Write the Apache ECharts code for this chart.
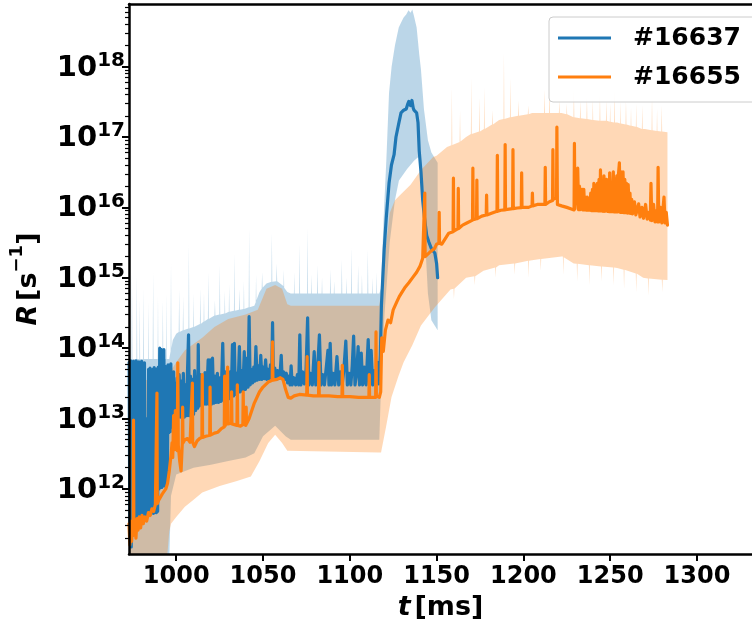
<!DOCTYPE html>
<html>
<head>
<meta charset="utf-8">
<script src="https://cdn.jsdelivr.net/npm/echarts@6.0.0/dist/echarts.min.js"></script>
<style>html,body{margin:0;padding:0;background:#fff;}#c{width:752px;height:630px;}</style>
</head>
<body>
<div id="c"></div>
<script>
// ---------- tick labels ----------
const xTicks = [1000, 1050, 1100, 1150, 1200, 1250, 1300];
const yTicks = [1e12, 1e13, 1e14, 1e15, 1e16, 1e17, 1e18];
const yMinorMult = [2, 3, 4, 5, 6, 7, 8, 9];
const yMinorDecades = [1e11, 1e12, 1e13, 1e14, 1e15, 1e16, 1e17, 1e18];
const seriesNames = ['#16637', '#16655'];

// ---------- #16637 : line, band upper, band lower  [t (ms), R (1/s)] ----------
const blueLine = [
[972.9,6.3e13],[973.3,1.8e11],[973.7,6.6e13],[974.1,1.5e11],[974.5,5.8e13],[974.9,2.2e11],[975.3,6.5e13],[975.7,4.0e11],
[976.1,6.2e13],[976.5,3.6e11],[976.9,6.6e13],[977.3,4.4e11],[977.7,3.0e13],[978.1,4.0e11],[978.5,6.4e13],[978.9,3.8e11],
[979.3,6.0e13],[979.7,4.2e11],[980.1,6.5e13],[980.5,3.9e11],[980.9,5.6e13],[981.3,4.1e11],[981.7,6.2e13],[982.1,4.0e11],
[982.5,1.0e13],[982.9,4.2e11],[983.3,9e12],[983.7,4.4e11],[984.1,5.0e13],[984.5,4.6e11],[984.9,5.2e13],[985.3,4.4e11],
[985.7,4.8e13],[986.1,4.7e11],[986.5,5.0e13],[986.9,4.5e11],[987.3,5.3e13],[987.7,4.8e11],[988.1,4.9e13],[988.5,4.6e11],
[988.9,5.1e13],[989.3,4.8e11],[989.7,5.4e13],[990.1,1.0e12],[990.5,1.0e14],[990.9,1.1e12],[991.3,9.6e13],[991.7,1.05e12],
[992.1,7e13],[992.5,1.1e12],[992.9,9.5e13],[993.3,1.1e12],[993.7,5.5e13],[994.1,1.2e12],[994.5,4.0e13],[994.9,1.6e12],
[995.3,5.8e13],[995.7,6.3e12],[996.1,4.4e13],[996.5,6.5e12],[996.9,6.0e13],[997.3,7.5e12],[997.7,3.5e13],[998.1,1.0e13],
[998.5,4.6e13],[998.9,1.0e13],[999.3,3.2e13],[999.7,1.05e13],
[1000.1,1.05e13],[1000.6,3.8e13],[1001.1,1.1e13],[1001.7,4.2e13],[1002.3,1.05e13],[1002.9,3.4e13],[1003.5,1.1e13],[1004.1,4.4e13],
[1004.7,1.05e13],[1005.3,3.0e13],[1005.9,1.1e13],[1006.5,4.6e13],[1007.1,1.55e14],[1007.6,1.1e13],[1008.2,4.0e13],[1008.8,1.2e13],
[1009.4,3.6e13],[1010,1.15e13],[1010.6,4.8e13],[1011.2,1.3e13],[1011.8,3.9e13],[1012.4,1.4e13],[1012.7,1.12e14],[1013.1,1.5e13],
[1013.8,4.2e13],[1014.5,1.55e13],[1015.2,3.6e13],[1015.9,1.6e13],[1016.6,4.5e13],[1017.3,1.6e13],[1018,3.8e13],[1018.4,6.8e13],
[1018.8,1.6e13],[1019.5,6.8e13],[1020.2,1.6e13],[1020.9,7.2e13],[1021.6,1.65e13],[1022.3,4.0e13],[1023,1.7e13],[1023.7,4.4e13],
[1024.4,1.7e13],[1025.1,3.8e13],[1025.8,1.75e13],[1026.8,1.17e14],[1027.5,1.8e13],[1028.2,4.6e13],[1028.9,1.8e13],[1029.6,4.0e13],
[1030.3,1.9e13],[1031,4.6e13],[1031.7,2.0e13],[1032.4,1.12e14],[1033,2.1e13],[1033.5,1.17e14],[1034.1,2.2e13],[1034.8,4.4e13],
[1035.5,2.3e13],[1036.4,1.05e14],[1037,2.4e13],[1037.7,4.8e13],[1038.4,2.5e13],[1039.2,8.9e13],[1039.9,2.6e13],[1040.8,7.2e13],
[1041.4,2.8e13],[1042,2.8e14],[1042.6,3.0e13],[1043.3,5.0e13],[1044,3.2e13],[1044.7,5.4e13],[1045.3,3.4e13],[1045.9,1.05e14],
[1046.6,3.5e13],[1047.3,5.6e13],[1048,3.6e13],[1048.7,7.9e13],[1049.4,3.6e13],[1050.1,5.4e13],[1050.8,3.7e13],[1051.5,6.8e13],
[1052.2,3.6e13],[1052.9,5.0e13],[1053.6,3.7e13],[1054.3,5.8e13],[1055,3.8e13],[1055.5,2.3e14],[1056,3.7e13],[1056.8,5.2e13],
[1057.6,3.6e13],[1058.4,4.8e13],[1059.2,3.7e13],[1060,5.0e13],[1060.5,7.9e13],[1061,3.7e13],[1061.8,4.6e13],[1062.6,3.6e13],
[1063.4,4.4e13],[1064.2,3.2e13],[1065,4.0e13],[1065.6,3.0e13],[1066.2,5.6e13],[1066.8,3.0e13],[1067.8,3.8e13],[1068.8,3.0e13],
[1069.8,4.2e13],[1070.6,3.0e13],[1071.2,1.55e14],[1071.8,3.0e13],[1072.8,4.6e13],[1073.8,3.1e13],[1074.8,5.0e13],[1075.7,2.7e14],
[1076.4,3.0e13],[1077.4,4.4e13],[1078.4,3.0e13],[1079.5,8.9e13],[1080.4,3.0e13],[1081.4,4.8e13],[1082.5,1.55e14],[1083.4,3.0e13],
[1084.4,4.2e13],[1085.4,3.0e13],[1086.4,5.2e13],[1087.4,9.3e13],[1088,3.0e13],[1088.7,1.17e14],[1089.4,3.0e13],[1090.4,4.4e13],
[1091.4,3.0e13],[1092.6,7.6e13],[1093.6,3.0e13],[1094.6,4.6e13],[1095.6,3.0e13],[1096.6,5.0e13],[1097.7,1.26e14],[1098.6,3.0e13],
[1099.6,4.4e13],[1100.6,3.0e13],[1101.4,5.6e13],[1102.2,1.48e14],[1103,3.0e13],[1104,4.6e13],[1104.8,1.05e14],[1105.6,3.0e13],
[1106.6,8.5e13],[1107.4,3.0e13],[1108.4,5.4e13],[1109.4,3.0e13],[1110.6,1.32e14],[1111.4,3.0e13],[1112.3,9.3e13],[1113.2,3.0e13],
[1114.2,4.8e13],[1115.1,3.1e13],[1116,6.3e13],[1116.8,3.1e13],
[1117.6,8e13],[1118.2,4e14],[1119,1.0e15],[1119.8,2.5e15],[1121,7.1e15],[1122.6,2.2e16],[1124,4.0e16],[1125.5,5.6e16],
[1126.6,1.0e17],[1128.3,1.6e17],[1129.5,2.2e17],[1131,2.4e17],[1132.5,2.5e17],[1133.3,2.9e17],[1134,3.2e17],[1135,2.8e17],
[1135.8,3.3e17],[1136.5,2.6e17],[1137,2.4e17],[1138.5,2.2e17],[1139.3,1.6e17],[1140,6.3e16],[1141,3.2e16],[1142,1.26e16],
[1143,7.2e15],[1144.3,4.0e15],[1145.6,3.2e15],[1147,2.6e15],[1149,2.24e15],[1150,1.6e15],[1150.6,1.0e15]
];
const blueUpper = [
[972.8,7.0e13],[974.25,7e13],[974.5,1.2e15],[974.75,7e13],[977.05,7e13],[977.3,1.1e15],[977.55,7e13],
[978.8,7e13],[979,5e14],[979.2,7e13],[980.85,7e13],[981.1,6.8e14],[981.35,7e13],[983.8,7e13],[984,4.5e14],[984.2,7e13],
[986.45,7e13],[986.7,1.2e15],[986.95,7e13],[989.3,7e13],[989.5,5.5e14],[989.7,7e13],[992.05,7e13],[992.3,4.8e14],[992.55,7e13],
[994.3,7e13],[994.5,6e14],[994.7,7e13],[996,7e13],[996.75,9e13],[997,1.6e15],[997.25,1e14],[998,1.3e14],[1000,1.6e14],
[1001.45,1.7e14],[1001.7,6.8e14],[1001.95,1.7e14],[1003.8,1.8e14],[1004,5.5e14],[1004.2,1.8e14],
[1007.05,1.9e14],[1007.3,3.0e15],[1007.55,1.9e14],[1009.8,2e14],[1010,6e14],[1010.2,2e14],
[1013.65,2.2e14],[1013.9,7e14],[1014.15,2.2e14],[1015.8,2.4e14],[1016,6e14],[1016.2,2.4e14],
[1018.25,2.6e14],[1018.5,1.2e15],[1018.75,2.6e14],[1022.05,2.9e14],[1022.3,4.8e14],[1022.55,2.9e14],
[1024.85,3e14],[1025.1,1.5e15],[1025.35,3e14],[1027.8,3.1e14],[1028,6.5e14],[1028.2,3.1e14],
[1030.3,3.3e14],[1030.5,8e14],[1030.7,3.3e14],[1033.25,3.4e14],[1033.5,2.2e15],[1033.75,3.4e14],
[1036.15,3.5e14],[1036.4,7e14],[1036.65,3.5e14],[1038.8,3.6e14],[1039,9e14],[1039.2,3.6e14],
[1041.75,3.8e14],[1042,5e15],[1042.25,3.8e14],[1045,4e14],[1045.8,4.5e14],[1046,1.1e15],[1046.2,4.8e14],[1048,6.3e14],
[1049.25,7e14],[1049.5,1.2e15],[1049.75,7.2e14],[1052,8.3e14],[1054.85,8.8e14],[1055.1,4.3e15],[1055.35,8.8e14],
[1057.65,8.9e14],[1057.9,1.6e15],[1058.15,8.9e14],[1061,7.9e14],[1061.8,7.6e14],[1062,1.3e15],[1062.2,7.2e14],[1064,6.3e14],
[1066,6e14],[1067.8,6e14],[1068,1.2e15],[1068.2,6e14],[1070.85,6e14],[1071.1,3e15],[1071.35,6e14],
[1075.45,6e14],[1075.7,5e15],[1075.95,6e14],[1077.8,6e14],[1078,1.1e15],[1078.2,6e14],
[1081.15,6e14],[1081.4,1.5e15],[1081.65,6e14],[1083.8,6e14],[1084,1.0e15],[1084.2,6e14],
[1088.55,6e14],[1088.8,1.3e15],[1089.05,6e14],[1090.8,6e14],[1091,9e14],[1091.2,6e14],
[1095.15,6e14],[1095.4,1.8e15],[1095.65,6e14],[1097.8,6e14],[1098,1.0e15],[1098.2,6e14],
[1100.75,6e14],[1101,2.7e15],[1101.25,6e14],[1104.55,6e14],[1104.8,1.5e15],[1105.05,6e14],
[1106.8,6e14],[1107,1.1e15],[1107.2,6e14],[1110.15,6e14],[1110.4,2.5e15],[1110.65,6e14],
[1112.8,6e14],[1113,1.0e15],[1113.2,6e14],[1115.3,6e14],[1115.5,1.2e15],[1115.7,6e14],[1117,6e14],
[1117.9,7e14],[1119.6,8e15],[1121.1,5e16],[1122.6,4.2e17],[1124.1,1e18],[1126,2e18],[1128.2,3.6e18],[1129.5,4.2e18],
[1131,5e18],[1132.5,5.5e18],[1133.8,6.3e18],[1135,5.8e18],[1136,6.5e18],[1137,5.2e18],[1138.5,3.6e18],[1140,1.5e18],
[1141,9e17],[1142.7,2.5e17],[1145,9e16],[1147,6e16],[1150.6,4.3e16]
];
const blueLower = [
[972.8,1.0e11],[996,1.0e11],[997,8e11],[1000,1.6e12],[1010,2.0e12],[1020,2.2e12],[1030,2.5e12],[1040,2.8e12],
[1045,3.2e12],[1050,5.6e12],[1057,7.9e12],[1063,5.6e12],[1066,5.0e12],[1117,5.0e12],[1118,3e13],[1120,3e14],
[1123,3.2e15],[1126,1.26e16],[1128.3,2.4e16],[1133,3.5e16],[1137,4.6e16],[1139.5,5.2e16],[1141,4e16],[1142.5,1.6e16],
[1143.5,3e15],[1145,6e14],[1147,2.5e14],[1150.6,1.8e14]
];

// ---------- #16655 : line, band upper, band lower  [t (ms), R (1/s)] ----------
const orangeLine = [
[972.8,3.2e11],[973.3,1.6e11],[973.8,3.5e11],[974.3,1.8e11],[974.8,3.0e11],[975.2,2.2e11],[975.4,9.5e12],[975.6,2.4e11],
[976.2,3.6e11],[976.8,2.0e11],[977.4,3.8e11],[978,2.6e11],[978.7,4.0e11],[979.5,2.8e11],[980.3,4.2e11],[981,3.2e11],
[982,4.0e11],[983,3.5e11],[984,4.6e11],[985,4.2e11],[986,5.2e11],[987,4.8e11],[988,6.0e11],[988.9,2.3e13],[989.1,6.2e11],
[990,7.0e11],[991,6.8e11],[992,8.5e11],[993,8.0e11],[994,1.0e12],[995,1.2e12],[996,1.8e12],[997,3.0e12],[997.6,4.5e12],
[998,2.8e12],[998.5,1.1e13],[999,3.6e12],[999.5,1.3e13],[1000,4.0e12],[1000.6,3.5e12],[1000.9,6.2e13],[1001.2,4.2e12],
[1002,2.5e12],[1002.8,1.8e12],[1003.5,4.5e12],[1003.7,1.45e13],[1003.9,4.5e12],[1005,5.0e12],[1006.5,5.2e12],[1008,4.6e12],
[1009.1,4.8e12],[1009.3,3.2e13],[1009.5,4.6e12],[1010.5,4.0e12],[1012,4.8e12],[1013.5,5.2e12],[1014.8,5.4e12],[1015,4.2e13],
[1015.2,5.4e12],[1017,5.6e12],[1019.3,5.8e12],[1019.5,2.8e13],[1019.7,5.8e12],[1022,6.2e12],[1024,6.4e12],[1026,7.2e12],
[1027.7,7.6e12],[1027.9,4.0e13],[1028.3,8e12],[1029.4,8.2e12],[1029.6,5.4e13],[1029.8,8.4e12],[1031.7,8.6e12],[1031.9,2.4e13],
[1032.1,8.4e12],[1035,8.0e12],[1035.2,3.0e13],[1035.4,8.0e12],[1037,7.8e12],[1038.4,8.2e12],[1038.6,2.4e13],[1038.8,8.4e12],
[1040.1,8.0e12],[1040.3,1.45e13],[1040.5,8.4e12],[1042,1.0e13],[1045,1.66e13],[1048,2.4e13],[1050,2.8e13],[1053,3.3e13],
[1055.3,3.5e13],[1055.5,1.23e14],[1055.7,3.5e13],[1058,3.6e13],[1060,3.8e13],[1061.5,3.6e13],[1063,2.6e13],[1064.5,2.0e13],
[1066,1.95e13],[1068,2.1e13],[1071,2.2e13],[1075.2,2.15e13],[1075.4,7.6e13],[1075.6,2.15e13],[1079,2.1e13],[1082,2.1e13],
[1082.2,6.3e13],[1082.4,2.1e13],[1088,2.1e13],[1093,2.05e13],[1095.5,2.05e13],[1095.7,5.7e13],[1095.9,2.05e13],[1100,2.05e13],
[1105,2.0e13],[1111,2.0e13],[1111.2,4.2e13],[1111.4,2.0e13],[1114.9,2.0e13],[1115.1,1.7e14],[1115.3,2.1e13],[1117,2.0e13],
[1117.8,2.4e13],[1118.4,1.4e14],[1119.3,9e13],[1120.5,1.8e14],[1122,2.5e14],[1123.5,2.3e14],[1125,3.5e14],[1127,4.5e14],
[1128.5,5.4e14],[1130,6.2e14],[1132,7.4e14],[1134,8.5e14],[1136.4,1.02e15],[1138.5,1.2e15],[1140.4,1.45e15],[1142,1.9e15],
[1143.0,2.0e15],[1143.2,1.6e16],[1143.4,2.0e15],[1146,2.3e15],[1148.8,2.6e15],[1150,3.0e15],[1151.3,3.1e15],[1151.5,8.5e15],
[1151.7,3.1e15],[1153,3.0e15],[1155,3.6e15],[1157,4.3e15],[1159.5,4.5e15],[1159.7,2.6e16],[1159.9,4.6e15],[1162.3,5.0e15],
[1162.5,1.86e16],[1162.7,5.0e15],[1165,5.6e15],[1167.4,6.0e15],[1170.7,6.6e15],[1170.9,3.6e16],[1171.1,6.7e15],[1173,6.9e15],
[1173.2,2.45e16],[1173.4,6.9e15],[1176,7.5e15],[1178.6,7.8e15],[1178.8,1.5e16],[1179,7.8e15],[1182,8.3e15],[1184.8,8.8e15],
[1185,5.5e16],[1185.2,8.8e15],[1187,9.1e15],[1189.3,9.2e15],[1189.5,7.8e16],[1189.7,9.3e15],[1193.8,9.6e15],[1194,6.6e16],
[1194.2,9.6e15],[1196.5,9.8e15],[1198.8,9.9e15],[1199,3.1e16],[1199.2,1.0e16],[1203,1.0e16],[1205,1.05e16],[1205.2,1.6e16],
[1205.4,1.05e16],[1208,1.1e16],[1212.4,1.1e16],[1212.6,3.7e16],[1212.8,1.1e16],[1215,1.2e16],[1216.8,1.25e16],[1217,6.6e16],
[1217.2,1.3e16],[1219.1,1.4e16],[1219.3,1.38e17],[1219.6,1.1e16],[1222,1.05e16],[1225,1.0e16],[1227.6,9.5e15],[1229.2,9.2e15],
[1229.4,8.1e16],[1229.7,9.5e15],
[1230.2,9.3e15],[1230.8,2.2e16],[1231.3,3.6e16],[1231.8,9.3e15],[1232.3,2.0e16],[1232.8,9.3e15],[1233.3,1.6e16],[1233.8,1.8e16],
[1234.3,9.2e15],[1234.8,1.8e16],[1235.3,9.2e15],[1235.8,1.4e16],[1236.3,9.1e15],[1236.8,1.4e16],[1237.3,9.1e15],[1237.8,1.26e16],
[1238.3,9.1e15],[1238.8,1.6e16],[1239.3,9.0e15],[1239.8,1.8e16],[1240.3,9.0e15],[1240.6,2.2e16],[1241.1,9.0e15],[1241.6,2.0e16],
[1242.1,9.0e15],[1242.6,2.2e16],[1243.1,8.9e15],[1243.6,2.5e16],[1244.1,8.9e15],[1244.4,3.4e16],[1244.9,8.9e15],[1245.4,2.0e16],
[1245.9,8.8e15],[1246.4,2.8e16],[1246.9,8.8e15],[1247.4,2.0e16],[1247.9,2.5e16],[1248.4,8.8e15],[1248.9,2.2e16],[1249.4,8.7e15],
[1249.7,3.1e16],[1250.2,8.7e15],[1250.7,1.8e16],[1251.2,8.7e15],[1251.8,3.2e16],[1252.3,8.6e15],[1252.8,2.5e16],[1253.3,8.6e15],
[1253.8,2.8e16],[1254.3,8.6e15],[1254.8,3.0e16],[1255.3,4.3e16],[1255.8,8.5e15],[1256.3,3.2e16],[1256.8,8.5e15],[1257.4,3.2e16],
[1257.9,8.4e15],[1258.4,2.5e16],[1258.9,8.4e15],[1259.4,2.2e16],[1259.9,8.3e15],[1260.4,2.1e16],[1260.9,8.3e15],[1261.4,1.6e16],
[1261.9,8.2e15],[1262.4,1.3e16],[1262.9,8.1e15],
[1264,1.2e16],[1264.8,7.8e15],[1266.4,1.12e16],[1267.2,7.3e15],[1268.3,1.0e16],[1269.2,7.0e15],[1270.4,1.1e16],[1271.3,6.8e15],
[1272.3,8.5e15],[1273.1,6.6e15],[1273.5,2.2e16],[1274,6.5e15],[1275,1.1e16],[1275.8,6.2e15],[1276.6,9e15],[1277.3,6.2e15],
[1277.6,3.7e16],[1278,6.2e15],[1279,1.0e16],[1279.8,6.0e15],[1280.5,1.0e16],[1281,1.4e16],[1281.6,6e15],[1282.3,8.5e15],[1283,5.6e15]
];
const orangeUpper = [
[972.8,3.2e13],[995,4e13],[1000,6.3e13],[1005,9.3e13],[1015,1.4e14],[1022,2e14],[1030,2.6e14],[1040,3e14],[1047,3.5e14],
[1052,7e14],[1057,7.9e14],[1061,7e14],[1064,4.2e14],[1066,4e14],[1117,4e14],[1117.5,5e14],[1118.5,1e15],[1120,2e15],
[1122,5e15],[1123,8.3e15],[1126,1.26e16],[1129,1.5e16],[1135,2.1e16],[1141,3.4e16],[1148,5.2e16],[1150,5.4e16],[1156,7.2e16],
[1158.55,7.6e16],[1158.8,5.1e17],[1159.05,7.7e16],[1163.25,8.5e16],[1163.5,2.4e17],[1163.75,8.6e16],[1167,1e17],
[1169.75,1.1e17],[1170,6.9e17],[1170.25,1.1e17],[1174.45,1.2e17],[1174.7,3.7e17],[1174.95,1.2e17],
[1177.25,1.3e17],[1177.5,5.1e17],[1177.75,1.3e17],[1181.95,1.5e17],[1182.2,2.4e17],[1182.45,1.5e17],[1186,1.74e17],
[1188.55,1.8e17],[1188.8,1.55e18],[1189.05,1.8e17],[1192.25,1.9e17],[1192.5,6.9e17],[1192.75,1.9e17],
[1196.95,2e17],[1197.2,3.3e17],[1197.45,2e17],[1202.55,2.1e17],[1202.8,2.8e17],[1203.05,2.1e17],[1205,2.2e17],
[1211.95,2.2e17],[1212.2,4.7e17],[1212.45,2.2e17],[1214.75,2.2e17],[1215,5.6e17],[1215.25,2.2e17],
[1220.45,2.2e17],[1220.7,3.3e17],[1220.95,2.2e17],[1222,2.2e17],[1224.8,2.1e17],[1225,3e17],[1225.2,2.1e17],
[1228.85,1.9e17],[1229.1,4.7e17],[1229.35,1.9e17],[1232.55,1.85e17],[1232.8,3.3e17],[1233.05,1.85e17],
[1236.35,1.8e17],[1236.6,3.7e17],[1236.85,1.8e17],[1239.8,1.75e17],[1240,3.5e17],[1240.2,1.75e17],
[1243.85,1.7e17],[1244.1,4e17],[1244.35,1.7e17],[1247.55,1.7e17],[1247.8,3.3e17],[1248.05,1.7e17],
[1249.8,1.65e17],[1250,3e17],[1250.2,1.65e17],[1252.25,1.6e17],[1252.5,4.7e17],[1252.75,1.6e17],[1254,1.6e17],
[1255.8,1.55e17],[1256,3.2e17],[1256.2,1.55e17],[1258.85,1.5e17],[1259.1,3.3e17],[1259.35,1.5e17],
[1261.8,1.45e17],[1262,2.6e17],[1262.2,1.45e17],[1264.8,1.4e17],[1265,3e17],[1265.2,1.4e17],
[1268.25,1.3e17],[1268.5,2.8e17],[1268.75,1.3e17],[1270,1.3e17],[1273.85,1.25e17],[1274.1,3.7e17],[1274.35,1.25e17],
[1276.8,1.22e17],[1277,2.5e17],[1277.2,1.22e17],[1279.45,1.2e17],[1279.7,2.8e17],[1279.95,1.2e17],[1283,1.17e17]
];
const orangeLower = [
[972.8,1e11],[994,1e11],[995,1.26e11],[996,2.5e11],[997,3.2e11],[1000,4e11],[1005,5.6e11],[1010,7e11],[1015,8.9e11],
[1025,1.1e12],[1035,1.3e12],[1043,1.5e12],[1048,2.5e12],[1053,4.5e12],[1057,5.9e12],[1061,4.5e12],[1064,3.5e12],
[1117,3.3e12],[1118,3.3e12],[1121,7.9e12],[1124,2e13],[1128,4e13],[1131,6.3e13],[1136,1.1e14],[1141,2.1e14],[1149,3.8e14],
[1158,6.8e14],[1159.75,7e14],[1160,5e14],[1160.25,7e14],[1167,1e15],[1171.75,1.05e15],[1172,7.9e14],[1172.25,1.05e15],
[1177,1.26e15],[1183.75,1.4e15],[1184,1e15],[1184.25,1.4e15],[1186,1.5e15],[1194.75,1.6e15],[1195,1.1e15],[1195.25,1.6e15],
[1202.75,1.75e15],[1203,1e15],[1203.25,1.75e15],[1205,1.78e15],[1209.75,1.85e15],[1210,1.26e15],[1210.25,1.85e15],
[1222,2e15],[1222.75,2e15],[1223,1.1e15],[1223.25,1.95e15],[1229,1.6e15],[1230.75,1.58e15],[1231,8.9e14],[1231.25,1.58e15],
[1237.75,1.5e15],[1238,7.9e14],[1238.25,1.5e15],[1244.75,1.45e15],[1245,8.9e14],[1245.25,1.45e15],
[1251.75,1.4e15],[1252,7.9e14],[1252.25,1.4e15],[1254,1.38e15],[1257.75,1.3e15],[1258,7e14],[1258.25,1.3e15],
[1264.75,1.15e15],[1265,6.3e14],[1265.25,1.15e15],[1269,1e15],[1271.75,9.8e14],[1272,5.6e14],[1272.25,9.8e14],
[1279.75,9.4e14],[1280,6.3e14],[1280.25,9.4e14],[1283,9.3e14]
];

// ---------- chart ----------
const FONT = 'DejaVu Sans';
const minorTicks = [];
yMinorDecades.forEach(function (d) { yMinorMult.forEach(function (m) { minorTicks.push(m * d); }); });

function band(up, lo, color) {
  return {
    type: 'custom', coordinateSystem: 'cartesian2d', silent: true, clip: true, z: 1,
    data: [[up[0][0], up[0][1]]],
    renderItem: function (params, api) {
      const pts = [];
      for (let i = 0; i < up.length; i++) pts.push(api.coord(up[i]));
      for (let j = lo.length - 1; j >= 0; j--) pts.push(api.coord(lo[j]));
      return { type: 'polygon', shape: { points: pts }, style: { fill: color } };
    }
  };
}
function line(name, data, color, z) {
  return {
    name: name, type: 'line', data: data, symbol: 'none', showSymbol: false, clip: true,
    z: z, color: color,
    lineStyle: { color: color, width: 3.2, join: 'round', cap: 'round' }
  };
}

const chart = echarts.init(document.getElementById('c'), null, { renderer: 'canvas' });
const X_MIN = 972.8, X_MAX = 1331.7, Y_MIN = 1.19e11, Y_MAX = 7.75e18;
chart.setOption({
  animation: false,
  backgroundColor: '#ffffff',
  textStyle: { fontFamily: FONT },
  grid: { left: 127, right: -13, top: 4, bottom: 76, containLabel: false },
  legend: {
    orient: 'vertical', left: 549, top: 17,
    padding: [6, 15, 10, 9],
    itemWidth: 53, itemHeight: 3, itemGap: 9,
    backgroundColor: 'rgba(255,255,255,0.8)', borderColor: '#cccccc', borderWidth: 1, borderRadius: 4,
    data: [{ name: seriesNames[0], icon: 'rect' }, { name: seriesNames[1], icon: 'rect' }],
    textStyle: { fontFamily: FONT, fontSize: 25, fontWeight: 'bold', color: '#000', lineHeight: 30, padding: [0, 0, 0, 17] },
    selectedMode: false
  },
  xAxis: [{
    type: 'value', min: X_MIN, max: X_MAX, position: 'bottom', z: 10,
    axisLine: { show: true, lineStyle: { color: '#000', width: 2.5 } },
    axisTick: { show: true, customValues: xTicks, length: 7, lineStyle: { color: '#000', width: 2 } },
    axisLabel: { show: true, customValues: xTicks, formatter: function (v) { return String(Math.round(v)); },
      fontFamily: FONT, fontSize: 24, fontWeight: 'bold', color: '#000', margin: 11 },
    splitLine: { show: false },
    name: '{i|t} {n|[ms]}', nameLocation: 'middle', nameGap: 40,
    nameTextStyle: { rich: {
      i: { fontFamily: FONT, fontSize: 27, fontWeight: 'bold', fontStyle: 'italic', color: '#000' },
      n: { fontFamily: FONT, fontSize: 27, fontWeight: 'bold', color: '#000' } } }
  }, {
    type: 'value', min: X_MIN, max: X_MAX, position: 'top', z: 10,
    axisLine: { show: true, lineStyle: { color: '#000', width: 2.5 } },
    axisTick: { show: false }, axisLabel: { show: false }, splitLine: { show: false }
  }],
  yAxis: [{
    type: 'log', logBase: 10, min: Y_MIN, max: Y_MAX, position: 'left', z: 10,
    axisLine: { show: true, lineStyle: { color: '#000', width: 2.5 } },
    axisTick: { show: true, customValues: yTicks, length: 7, lineStyle: { color: '#000', width: 2 } },
    axisLabel: {
      show: true, customValues: yTicks, margin: 4,
      formatter: function (v) { return '{b|10}{s|' + Math.round(Math.log10(v)) + '}'; },
      rich: {
        b: { fontFamily: FONT, fontSize: 29, fontWeight: 'bold', color: '#000', lineHeight: 32, verticalAlign: 'bottom' },
        s: { fontFamily: FONT, fontSize: 20, fontWeight: 'bold', color: '#000', lineHeight: 20, verticalAlign: 'top' }
      }
    },
    splitLine: { show: false },
    name: '{i|R} {n|[s}{s|\u22121}{n|]}', nameLocation: 'middle', nameGap: 87,
    nameTextStyle: { rich: {
      i: { fontFamily: FONT, fontSize: 27, fontWeight: 'bold', fontStyle: 'italic', color: '#000', lineHeight: 34, verticalAlign: 'bottom' },
      n: { fontFamily: FONT, fontSize: 27, fontWeight: 'bold', color: '#000', lineHeight: 34, verticalAlign: 'bottom' },
      s: { fontFamily: FONT, fontSize: 18, fontWeight: 'bold', color: '#000', lineHeight: 18, verticalAlign: 'top' } } }
  }, {
    type: 'log', logBase: 10, min: Y_MIN, max: Y_MAX, position: 'left', z: 10,
    axisLine: { show: false },
    axisTick: { show: true, customValues: minorTicks, length: 4, lineStyle: { color: '#000', width: 1.2 } },
    axisLabel: { show: false }, splitLine: { show: false }
  }],
  series: [
    band(blueUpper, blueLower, 'rgba(31,119,180,0.3)'),
    band(orangeUpper, orangeLower, 'rgba(255,127,14,0.3)'),
    line(seriesNames[0], blueLine, '#1f77b4', 3),
    line(seriesNames[1], orangeLine, '#ff7f0e', 4)
  ]
});
</script>
</body>
</html>
